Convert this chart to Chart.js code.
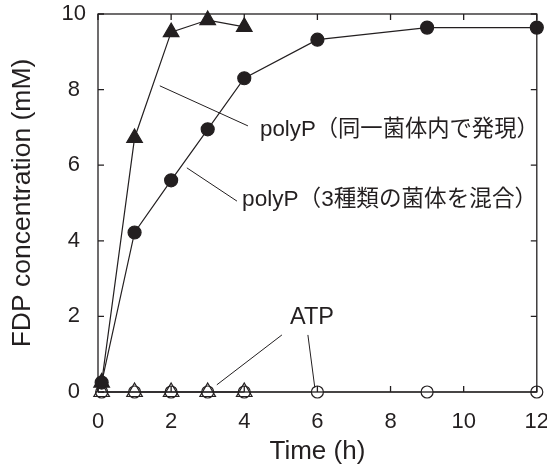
<!DOCTYPE html>
<html>
<head>
<meta charset="utf-8">
<script src="https://cdn.jsdelivr.net/npm/chart.js@4.4.1/dist/chart.umd.min.js"></script>
<style>
  html, body { margin: 0; padding: 0; background: #fff; }
  #wrap { width: 547px; height: 465px; }
</style>
</head>
<body>
<div id="wrap"><canvas id="c" width="547" height="465"></canvas></div>
<script>
// dados
const mixedTime = [0.1, 1, 2, 3, 4, 6, 9, 12];
const mixedFDP = [0.25, 4.22, 5.6, 6.95, 8.3, 9.32, 9.64, 9.64];

const sameTime = [0.1, 1, 2, 3, 4];
const sameFDP = [0.25, 6.72, 9.52, 9.84, 9.66];

const atpMixedTime = [0.1, 1, 2, 3, 4, 6, 9, 12];
const atpMixedFDP = [0, 0, 0, 0, 0, 0, 0, 0];

const atpSameTime = [0.1, 1, 2, 3, 4];
const atpSameFDP = [0, 0, 0, 0, 0];

const xTicks = [0, 2, 4, 6, 8, 10, 12];
const yTicks = [0, 2, 4, 6, 8, 10];

// rótulos e linhas de chamada (em unidades dos eixos)
const labelTexts = ['polyP（同一菌体内で発現）', 'polyP（3種類の菌体を混合）', 'ATP'];
const labelX = [4.43, 3.94, 5.25];
const labelY = [6.93, 5.08, 1.96];
const labelSize = [22.3, 22.6, 23.5];
const leaderX1 = [1.69, 2.43, 5.03, 5.74];
const leaderY1 = [8.10, 5.93, 1.51, 1.51];
const leaderX2 = [4.10, 3.80, 3.25, 5.93];
const leaderY2 = [7.04, 5.05, 0.19, 0.11];

const INK = '#231f20';
const FONT = "'Liberation Sans', Arial, 'Noto Sans CJK JP', sans-serif";

const toXY = (xs, ys) => xs.map((x, i) => ({ x: x, y: ys[i] }));

const framePlugin = {
  id: 'frame',
  afterDatasetsDraw(chart) {
    const { ctx, chartArea: a, scales: { x, y } } = chart;
    ctx.save();
    ctx.strokeStyle = INK;
    ctx.lineWidth = 1.3;
    ctx.strokeRect(a.left, a.top, a.right - a.left, a.bottom - a.top);
    // ticks para dentro nos quatro lados
    const tl = 6;
    ctx.beginPath();
    xTicks.forEach(v => {
      const px = x.getPixelForValue(v);
      ctx.moveTo(px, a.bottom); ctx.lineTo(px, a.bottom - tl);
      ctx.moveTo(px, a.top); ctx.lineTo(px, a.top + tl);
    });
    yTicks.forEach(v => {
      const py = y.getPixelForValue(v);
      ctx.moveTo(a.left, py); ctx.lineTo(a.left + tl, py);
      ctx.moveTo(a.right, py); ctx.lineTo(a.right - tl, py);
    });
    ctx.stroke();

    // linhas de chamada
    ctx.lineWidth = 1;
    ctx.beginPath();
    leaderX1.forEach((v, i) => {
      ctx.moveTo(x.getPixelForValue(v), y.getPixelForValue(leaderY1[i]));
      ctx.lineTo(x.getPixelForValue(leaderX2[i]), y.getPixelForValue(leaderY2[i]));
    });
    ctx.stroke();

    // textos
    ctx.fillStyle = INK;
    ctx.textAlign = 'left';
    ctx.textBaseline = 'middle';
    labelTexts.forEach((t, i) => {
      ctx.font = labelSize[i] + 'px ' + FONT;
      ctx.fillText(t, x.getPixelForValue(labelX[i]), y.getPixelForValue(labelY[i]));
    });
    ctx.restore();
  }
};

const common = {
  borderColor: INK,
  borderWidth: 1.2,
  pointBorderColor: INK,
  pointBorderWidth: 1.2,
  tension: 0,
  clip: false
};

new Chart(document.getElementById('c'), {
  type: 'line',
  data: {
    datasets: [
      Object.assign({}, common, {
        label: 'polyP mixed',
        data: toXY(mixedTime, mixedFDP),
        pointStyle: 'circle',
        pointRadius: 6.5,
        pointBackgroundColor: INK
      }),
      Object.assign({}, common, {
        label: 'polyP same',
        data: toXY(sameTime, sameFDP),
        pointStyle: 'triangle',
        pointRadius: 9,
        pointBackgroundColor: INK
      }),
      Object.assign({}, common, {
        label: 'ATP same',
        data: toXY(atpSameTime, atpSameFDP),
        pointStyle: 'triangle',
        pointRadius: 9,
        pointBackgroundColor: 'rgba(0,0,0,0)'
      }),
      Object.assign({}, common, {
        label: 'ATP mixed',
        data: toXY(atpMixedTime, atpMixedFDP),
        pointStyle: 'circle',
        pointRadius: 6,
        pointBackgroundColor: '#fff'
      })
    ]
  },
  options: {
    responsive: false,
    animation: false,
    devicePixelRatio: 1,
    layout: { padding: { top: 14, right: 10, left: 0, bottom: 0 } },
    plugins: {
      legend: { display: false },
      tooltip: { enabled: false }
    },
    scales: {
      x: {
        type: 'linear',
        min: 0,
        max: 12,
        afterBuildTicks: (s) => { s.ticks = xTicks.map(v => ({ value: v })); },
        afterFit: (s) => { s.height = 73; s.paddingRight = 10; s.paddingLeft = 0; },
        grid: { display: false, drawTicks: false },
        border: { display: false },
        ticks: {
          color: INK,
          padding: 17,
          maxRotation: 0,
          font: { family: FONT, size: 22 }
        },
        title: {
          display: true,
          text: 'Time (h)',
          color: INK,
          padding: { top: 0, bottom: 0 },
          font: { family: FONT, size: 26, lineHeight: 1 }
        }
      },
      y: {
        type: 'linear',
        min: 0,
        max: 10,
        afterBuildTicks: (s) => { s.ticks = yTicks.map(v => ({ value: v })); },
        afterFit: (s) => { s.width = 98; s.paddingTop = 0; },
        grid: { display: false, drawTicks: false },
        border: { display: false },
        ticks: {
          color: INK,
          padding: 12,
          crossAlign: 'center',
          font: { family: FONT, size: 22 }
        },
        title: {
          display: true,
          text: 'FDP concentration (mM)',
          color: INK,
          padding: { top: 9, bottom: 0 },
          font: { family: FONT, size: 26.5, lineHeight: 1 }
        }
      }
    }
  },
  plugins: [framePlugin]
});
</script>
</body>
</html>
